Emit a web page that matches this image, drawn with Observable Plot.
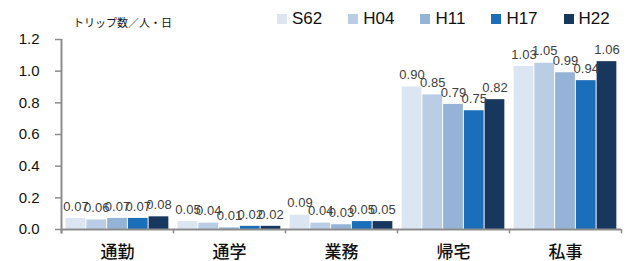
<!DOCTYPE html>
<html><head><meta charset="utf-8">
<script src="https://cdn.jsdelivr.net/npm/d3@7"></script>
<script src="https://cdn.jsdelivr.net/npm/@observablehq/plot@0.6"></script>
<style>
body{margin:0;background:#fff;}
#wrap{position:relative;width:632px;height:261px;overflow:hidden;font-family:"Liberation Sans",Arial,sans-serif;}
#chart{position:absolute;left:0;top:0;}
#title{position:absolute;left:73px;top:15px;font-size:11px;line-height:14px;font-family:"Noto Sans CJK JP",sans-serif;color:#111;white-space:nowrap;}
#legend{position:absolute;left:277px;top:8px;height:22px;display:flex;gap:26px;align-items:center;}
.item{display:flex;align-items:center;font-size:17px;line-height:22px;color:#111;}
.sw{width:10px;height:10px;margin-right:5px;}
</style></head>
<body>
<div id="wrap">
  <div id="chart"></div>
  <div id="title"></div>
  <div id="legend"></div>
</div>
<script>
const categories = ["通勤", "通学", "業務", "帰宅", "私事"];
const series = ["S62", "H04", "H11", "H17", "H22"];
const colors = ["#dce6f2", "#b9cde5", "#95b3d7", "#1b6eb9", "#17375e"];
const s62 = [0.07, 0.05, 0.09, 0.90, 1.03];
const h04 = [0.06, 0.04, 0.04, 0.85, 1.05];
const h11 = [0.07, 0.01, 0.03, 0.79, 0.99];
const h17 = [0.07, 0.02, 0.05, 0.75, 0.94];
const h22 = [0.08, 0.02, 0.05, 0.82, 1.06];
const yTicks = [0, 0.2, 0.4, 0.6, 0.8, 1.0, 1.2];
const unitLabel = "トリップ数／人・日";

const values = [s62, h04, h11, h17, h22];
const rows = categories.flatMap((c, ci) =>
  series.map((s, si) => ({cat: c, series: s, i: si, v: values[si][ci]})));

const axisColor = "#8c8c8c";
const lo = -0.2, hi = 5.2;

const plot = Plot.plot({
  width: 632, height: 261,
  marginTop: 39, marginBottom: 32, marginLeft: 60, marginRight: 10,
  style: {fontFamily: "Liberation Sans, Arial, sans-serif", background: "transparent", overflow: "visible"},
  fx: {domain: categories, padding: 0, label: null},
  x: {domain: [lo, hi], axis: null},
  y: {domain: [0, 1.2], label: null},
  color: {domain: series, range: colors},
  marks: [
    Plot.rect(rows, {fx: "cat", x1: "i", x2: d => d.i + 1, y1: 0, y2: "v", fill: "series", insetLeft: 0.5, insetRight: 0.5}),
    Plot.text(rows, {fx: "cat", x: d => d.i + 0.5, y: "v", text: d => d.v.toFixed(2), dy: -12, fontSize: 13, fill: "#404040"}),
    Plot.ruleY([0], {stroke: axisColor, strokeWidth: 2}),
    Plot.ruleX([lo], {y1: 0, y2: -0.028, stroke: axisColor, strokeWidth: 1.5}),
    Plot.ruleX([categories[categories.length - 1]], {fx: d => d, x: hi, y1: 0, y2: -0.028, stroke: axisColor, strokeWidth: 1.5}),
    Plot.ruleX([categories[0]], {fx: d => d, x: lo, y1: -0.028, y2: 1.2, stroke: axisColor, strokeWidth: 2}),
    Plot.axisY({ticks: yTicks, tickFormat: d => d.toFixed(1), tickSize: 6, tickPadding: 16, fontSize: 15, stroke: axisColor, strokeWidth: 1.5, fill: "#111", label: null}),
    Plot.axisFx({anchor: "bottom", tickSize: 0, tickPadding: 16, fontSize: 17, fontWeight: 500, fontFamily: "Noto Sans CJK JP, sans-serif", fill: "#111", label: null})
  ]
});
document.getElementById("chart").appendChild(plot);

document.getElementById("title").textContent = unitLabel;
const legend = document.getElementById("legend");
series.forEach((s, i) => {
  const it = document.createElement("div");
  it.className = "item";
  const sw = document.createElement("span");
  sw.className = "sw";
  sw.style.background = colors[i];
  const t = document.createElement("span");
  t.textContent = s;
  it.appendChild(sw); it.appendChild(t);
  legend.appendChild(it);
});
</script>
</body></html>
